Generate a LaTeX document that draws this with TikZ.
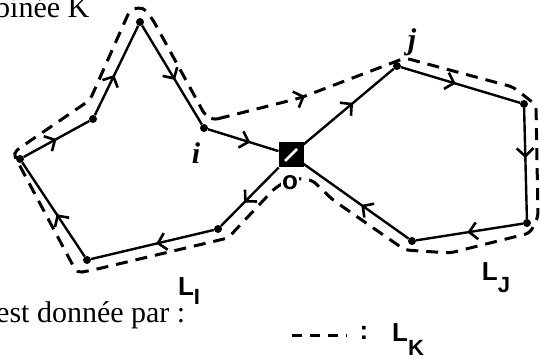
\documentclass[tikz,border=0pt]{standalone}
\usepackage{fontspec}
\setmainfont{Liberation Serif}
\setsansfont{Liberation Sans}
\usepackage{tikz}
\usetikzlibrary{arrows.meta,decorations.markings}
\tikzset{
	vertex/.style={circle, fill=black, inner sep=0pt, minimum size=8pt},
	junction/.style={draw, fill=black, inner sep=0pt, minimum size=24pt, line width=1pt,
		path picture={\draw[white, line width=2.5pt] (path picture bounding box.center)
			++(-6pt,-6pt) -- ++(12pt,12pt);}},
	edge/.style={line width=2.4pt},
	walkK/.style={line width=3pt, dash pattern=on 12pt off 8pt, rounded corners=5pt},
	midarrow/.style={postaction={decorate, decoration={markings,
		mark=at position #1 with {\arrow{Straight Barb[length=8pt, width=17pt, line width=2.6pt]}}}}},
	handlabel/.style={font=\sffamily\bfseries\fontsize{26}{26}\selectfont, inner sep=0pt},
	printtext/.style={font=\fontsize{30}{36}\selectfont, anchor=base west, inner sep=0pt}
}

\begin{document}
\begin{tikzpicture}[x=1pt, y=-1pt]
	\useasboundingbox (0,0) rectangle (540,363);
	
	%% ── printed text (cut at the left) ──────────────────────────────
	\node[printtext] (head) at (-5,18) {binée K};
	\node[printtext] (foot) at (-4,322) {est donnée par :};
	
	%% ── vertices ────────────────────────────────────────────────────
	\node[vertex] (pk) at (140,22) {};
	\node[vertex] (ul) at (93,119) {};
	\node[vertex] (fl) at (20,159) {};
	\node[vertex] (bl) at (87,260) {};
	\node[vertex] (lw) at (218,229) {};
	\node[vertex] (vi) at (204,128) {};
	\node[junction] (O) at (291,155) {};
	\node[vertex] (vj) at (397,66) {};
	\node[vertex] (rt) at (524,104) {};
	\node[vertex] (br) at (527,223) {};
	\node[vertex] (bt) at (412,241) {};
	
	%% ── loops L_I and L_J ───────────────────────────────────────────
	\foreach \a/\b/\p in {O/lw/0.6, lw/bl/0.47, bl/fl/0.45, fl/ul/0.5, ul/pk/0.45,
		pk/vi/0.55, vi/O/0.6, O/vj/0.55, vj/rt/0.46, rt/br/0.45, br/bt/0.52, bt/O/0.45}
		\draw[edge, midarrow=\p] (\a) -- (\b);
	
	%% ── combined walk L_K (dashed) ──────────────────────────────────
	\draw[walkK, midarrow=90pt] (213,120) -- (300,98) -- (405,58) -- (513,87)
		-- (536,105) -- (538,217) -- (530,233) -- (450,253) -- (405,250)
		-- (333,200) -- (312,180) -- (292,178) -- (275,188) -- (228,238)
		-- (93,270) -- (77,273) -- (13,153) -- (27,143) -- (90,100)
		-- (130,10) -- (143,7) -- (153,20) -- (205,115) -- cycle;
	
	%% ── hand-written labels ─────────────────────────────────────────
	\node[handlabel, font=\itshape\bfseries\fontsize{30}{30}\selectfont] (li) at (196,153) {i};
	\node[handlabel, font=\itshape\bfseries\fontsize{30}{30}\selectfont] (lj) at (412,42) {j};
	\node[handlabel, fill=white, inner sep=1pt] (lo) at (290,183) {o};
	\node[handlabel] (LI) at (189,291) {L\raisebox{-9pt}{\fontsize{22}{22}\selectfont I}};
	\node[handlabel] (LJ) at (496,278) {L\raisebox{-12pt}{\fontsize{22}{22}\selectfont J}};
	
	%% ── legend ──────────────────────────────────────────────────────
	\coordinate (legA) at (292,335);
	\coordinate (legB) at (347,335);
	\draw[line width=3pt, dash pattern=on 10pt off 8pt] (legA) -- (legB);
	\node[handlabel] (colon) at (364,333) {:};
	\node[handlabel] (LK) at (408,340) {L\raisebox{-14pt}{\fontsize{22}{22}\selectfont K}};
	
\end{tikzpicture}
\end{document}
